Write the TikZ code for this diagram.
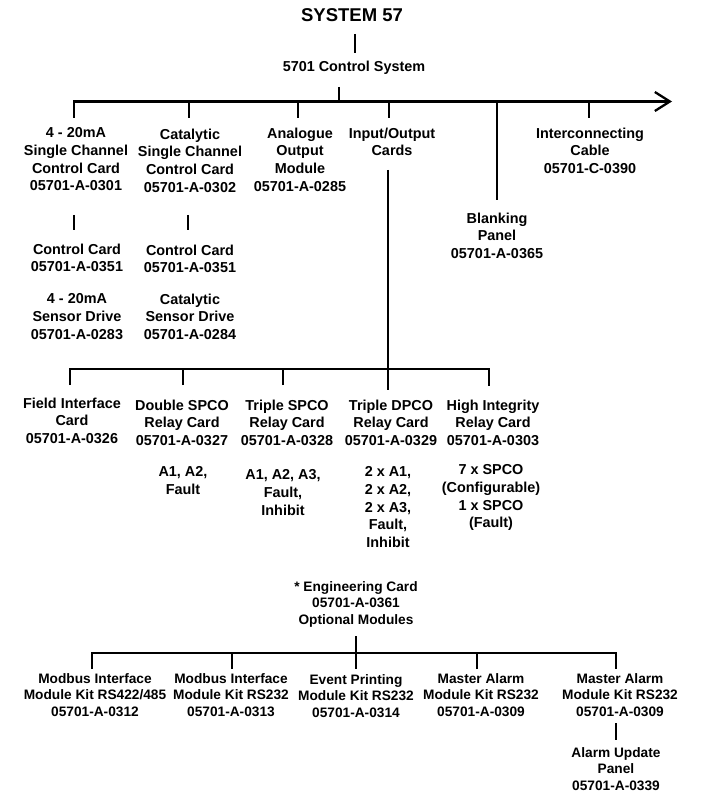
\documentclass[tikz,border=0pt]{standalone}
\usepackage{fontspec}
\setmainfont{Liberation Sans}
\usetikzlibrary{arrows.meta}
\begin{document}
\begin{tikzpicture}[x=1pt,y=-1pt,
  lbl/.style={font=\bfseries\fontsize{14.4}{17.6}\selectfont, align=center, inner sep=0pt, anchor=north},
  lbls/.style={font=\bfseries\fontsize{13.7}{16.5}\selectfont, align=center, inner sep=0pt, anchor=north},
  ttl/.style={font=\bfseries\fontsize{18.5}{22}\selectfont, inner sep=0pt, anchor=north},
  ln/.style={line width=2.3pt, line cap=butt, line join=miter}]
\useasboundingbox (0,0) rectangle (722,799);

% ---- text nodes ----
\node[ttl] (title) at (352,8.8) {SYSTEM 57};
\node[lbl] (ctrl) at (354,60.6) {5701 Control System};

\node[lbl] (n1) at (76,127.6) {4 - 20mA\\Single Channel\\Control Card\\05701-A-0301};
\node[lbl] (n2) at (190,128.6) {Catalytic\\Single Channel\\Control Card\\05701-A-0302};
\node[lbl] (n3) at (300,127.6) {Analogue\\Output\\Module\\05701-A-0285};
\node[lbl] (n4) at (392,127.6) {Input/Output\\Cards};
\node[lbl] (n5) at (590,127.6) {Interconnecting\\Cable\\05701-C-0390};
\node[lbl] (n6) at (497,212.6) {Blanking\\Panel\\05701-A-0365};
\node[lbl] (n7) at (77,243.6) {Control Card\\05701-A-0351};
\node[lbl] (n8) at (190,244.6) {Control Card\\05701-A-0351};
\node[lbl] (n9) at (77,293.6) {4 - 20mA\\Sensor Drive\\05701-A-0283};
\node[lbl] (n10) at (190,293.6) {Catalytic\\Sensor Drive\\05701-A-0284};

\node[lbl] (r1) at (72,397.6) {Field Interface\\Card\\05701-A-0326};
\node[lbl] (r2) at (182,399.6) {Double SPCO\\Relay Card\\05701-A-0327};
\node[lbl] (r3) at (287,399.6) {Triple SPCO\\Relay Card\\05701-A-0328};
\node[lbl] (r4) at (391,399.6) {Triple DPCO\\Relay Card\\05701-A-0329};
\node[lbl] (r5) at (493,399.6) {High Integrity\\Relay Card\\05701-A-0303};

\node[lbl] (s2) at (183,466.6) {A1, A2,\\Fault};
\node[lbl] (s3) at (283,469.6) {A1, A2, A3,\\Fault,\\Inhibit};
\node[lbl] (s4) at (388,466.6) {2 x A1,\\2 x A2,\\2 x A3,\\Fault,\\Inhibit};
\node[lbl] (s5) at (491,464.6) {7 x SPCO\\(Configurable)\\1 x SPCO\\(Fault)};

\node[lbls] (eng) at (356,581.1) {* Engineering Card\\05701-A-0361\\Optional Modules};

\node[lbls] (m1) at (95,673.1) {Modbus Interface\\Module Kit RS422/485\\05701-A-0312};
\node[lbls] (m2) at (231,673.1) {Modbus Interface\\Module Kit RS232\\05701-A-0313};
\node[lbls] (m3) at (356,674.1) {Event Printing\\Module Kit RS232\\05701-A-0314};
\node[lbls] (m4) at (481,673.1) {Master Alarm\\Module Kit RS232\\05701-A-0309};
\node[lbls] (m5) at (620,673.1) {Master Alarm\\Module Kit RS232\\05701-A-0309};
\node[lbls] (m6) at (616,747.1) {Alarm Update\\Panel\\05701-A-0339};

% ---- junction coordinates ----
\coordinate (t1) at (355,34);   \coordinate (t2) at (355,53);
\coordinate (c1) at (339,87);   \coordinate (c2) at (339,101.5);
\coordinate (bL) at (74,118);   \coordinate (bR) at (672,101.5);
\coordinate (d2) at (189,118);  \coordinate (d3) at (298,118);
\coordinate (d4) at (389,118);  \coordinate (d5) at (589,118);
\coordinate (d6) at (497,200);
\coordinate (k1a) at (74,215);  \coordinate (k1b) at (74,230);
\coordinate (k2a) at (188,215); \coordinate (k2b) at (188,230);
\coordinate (io1) at (388,170); \coordinate (io2) at (388,390);
\coordinate (lL) at (70,385);   \coordinate (lR) at (489,386);
\coordinate (lbus) at (489,369);
\coordinate (l2) at (183,385);  \coordinate (l3) at (283,385);
\coordinate (e1) at (356,636);  \coordinate (e2) at (356,669);
\coordinate (oL) at (92,669);   \coordinate (oR) at (616,669);
\coordinate (obus) at (616,653);
\coordinate (o2) at (232,669);  \coordinate (o4) at (477,669);
\coordinate (p1) at (616,723);  \coordinate (p2) at (616,740);

% ---- connectors ----
\draw[ln] (t1) -- (t2);
\draw[ln] (c1) -- (c2);
\draw[ln, -{Straight Barb[length=15pt,width=19pt,line width=2.3pt]}] (bL) |- (bR);
\foreach \d in {d2,d3,d4,d5,d6} \draw[ln] (\d) -- (\d |- bR);
\draw[ln] (k1a) -- (k1b);
\draw[ln] (k2a) -- (k2b);
\draw[ln] (io1) -- (io2);
\draw[ln] (lL) |- (lbus) -- (lR);
\foreach \d in {l2,l3} \draw[ln] (\d) -- (\d |- lbus);
\draw[ln] (e1) -- (e2);
\draw[ln] (oL) |- (obus) -- (oR);
\foreach \d in {o2,o4} \draw[ln] (\d) -- (\d |- obus);
\draw[ln] (p1) -- (p2);
\end{tikzpicture}
\end{document}
